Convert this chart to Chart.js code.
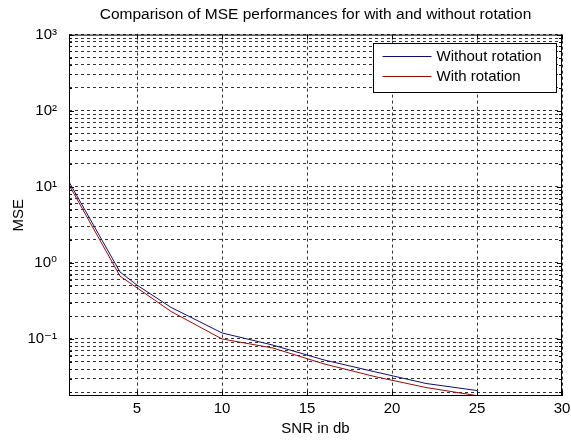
<!DOCTYPE html>
<html>
<head>
    <title>MSE comparison</title>
    <script src="https://cdn.jsdelivr.net/npm/chart.js"></script>
    <style>
        body { margin: 0; background: #fff; }
        #wrap { width: 571px; height: 440px; }
    </style>
</head>
<body>
    <div id="wrap"><canvas id="mseChart" width="571" height="440"></canvas></div>

    <script>
        // values
        const snrDb = [1, 4, 5, 7, 10, 13, 16, 19, 22, 25];
        const mseWithout = [11.6, 0.76, 0.51, 0.26, 0.12, 0.083, 0.053, 0.037, 0.026, 0.021];
        const mseWith = [10.6, 0.67, 0.47, 0.23, 0.10, 0.076, 0.047, 0.032, 0.023, 0.018];
        const xTicks = [5, 10, 15, 20, 25, 30];
        const yDecades = [-1, 0, 1, 2, 3];
        const lineColors = ['rgb(16,16,106)', 'rgb(150,12,12)'];

        const FONT = "'Liberation Sans', Arial, 'DejaVu Sans', sans-serif";
        const sup = { '-': '\u207B', '0': '\u2070', '1': '\u00B9', '2': '\u00B2', '3': '\u00B3' };

        function toPoints(xs, ys) {
            return xs.map((x, i) => ({ x: x, y: ys[i] }));
        }

        // box around the axes, inward tick marks, and the boxed legend
        const matlabFrame = {
            id: 'matlabFrame',
            afterDraw(chart) {
                const { ctx, chartArea: a, scales } = chart;
                ctx.save();
                ctx.strokeStyle = '#000';
                ctx.lineWidth = 1;
                ctx.setLineDash([]);
                ctx.strokeRect(a.left + 0.5, a.top + 0.5, a.right - a.left - 1, a.bottom - a.top - 1);

                ctx.beginPath();
                scales.x.ticks.forEach(t => {
                    const px = Math.round(scales.x.getPixelForValue(t.value)) + 0.5;
                    ctx.moveTo(px, a.bottom); ctx.lineTo(px, a.bottom - 5);
                    ctx.moveTo(px, a.top); ctx.lineTo(px, a.top + 5);
                });
                scales.y.ticks.forEach(t => {
                    const py = Math.round(scales.y.getPixelForValue(t.value)) + 0.5;
                    const len = t.major ? 5 : 3;
                    ctx.moveTo(a.left, py); ctx.lineTo(a.left + len, py);
                    ctx.moveTo(a.right, py); ctx.lineTo(a.right - len, py);
                });
                ctx.stroke();

                // legend
                const bw = 183, bh = 49;
                const bx = Math.round(a.right - bw - 6) + 0.5, by = Math.round(a.top + 8) + 0.5;
                ctx.fillStyle = '#fff';
                ctx.fillRect(bx, by, bw, bh);
                ctx.strokeRect(bx, by, bw, bh);
                ctx.font = '15px ' + FONT;
                ctx.textBaseline = 'middle';
                chart.data.datasets.forEach((ds, i) => {
                    const ly = by + 13 + i * 20;
                    ctx.strokeStyle = lineColors[i];
                    ctx.beginPath();
                    ctx.moveTo(bx + 9, ly);
                    ctx.lineTo(bx + 58, ly);
                    ctx.stroke();
                    ctx.fillStyle = '#000';
                    ctx.fillText(ds.label, bx + 63, ly + 0.5);
                });
                ctx.restore();
            }
        };

        const ctx = document.getElementById('mseChart').getContext('2d');
        new Chart(ctx, {
            type: 'line',
            data: {
                datasets: [{
                    label: 'Without rotation',
                    data: toPoints(snrDb, mseWithout),
                    borderColor: lineColors[0],
                    borderWidth: 1,
                    pointRadius: 0,
                    tension: 0
                }, {
                    label: 'With rotation',
                    data: toPoints(snrDb, mseWith),
                    borderColor: lineColors[1],
                    borderWidth: 1,
                    pointRadius: 0,
                    tension: 0
                }]
            },
            options: {
                responsive: false,
                animation: false,
                layout: { padding: 0 },
                plugins: {
                    legend: { display: false },
                    tooltip: { enabled: false },
                    title: {
                        display: true,
                        fullSize: false,
                        text: 'Comparison of MSE performances for with and without rotation',
                        color: '#000',
                        font: { family: FONT, size: 15.5, weight: 'normal' },
                        padding: { top: 5, bottom: 11 }
                    }
                },
                scales: {
                    x: {
                        type: 'linear',
                        min: 1,
                        max: 30,
                        afterBuildTicks: s => { s.ticks = xTicks.map(v => ({ value: v })); },
                        afterFit: s => { s.height = 44; s.paddingRight = 9; s.paddingLeft = 0; },
                        ticks: { color: '#000', padding: 4, font: { family: FONT, size: 15 } },
                        grid: { color: '#333', lineWidth: 1, drawTicks: false },
                        border: { display: false, dash: [3, 3] },
                        title: {
                            display: true,
                            text: 'SNR in db',
                            color: '#000',
                            font: { family: FONT, size: 15 },
                            padding: { top: 0, bottom: 2 }
                        }
                    },
                    y: {
                        type: 'logarithmic',
                        min: 0.0178,
                        max: 1000,
                        afterBuildTicks: s => {
                            const t = [];
                            for (let e = -2; e <= 3; e++) {
                                for (let k = 1; k <= 9; k++) {
                                    const v = k * Math.pow(10, e);
                                    if (v >= s.min && v <= s.max * 1.0001) t.push({ value: v, major: k === 1 });
                                }
                            }
                            s.ticks = t;
                        },
                        afterFit: s => { s.width = 69; },
                        ticks: {
                            color: '#000',
                            padding: 12,
                            autoSkip: false,
                            font: { family: FONT, size: 15 },
                            callback: function (v) {
                                const e = Math.round(Math.log10(v));
                                if (yDecades.includes(e) && Math.abs(v - Math.pow(10, e)) < 1e-9 * Math.pow(10, e + 3)) {
                                    return '10' + String(e).split('').map(c => sup[c]).join('');
                                }
                                return '';
                            }
                        },
                        grid: { color: '#333', lineWidth: 1, drawTicks: false },
                        border: { display: false, dash: [3, 3] },
                        title: {
                            display: true,
                            text: 'MSE',
                            color: '#000',
                            font: { family: FONT, size: 15 },
                            padding: { top: 10, bottom: 0 }
                        }
                    }
                }
            },
            plugins: [matlabFrame]
        });
    </script>
</body>
</html>
